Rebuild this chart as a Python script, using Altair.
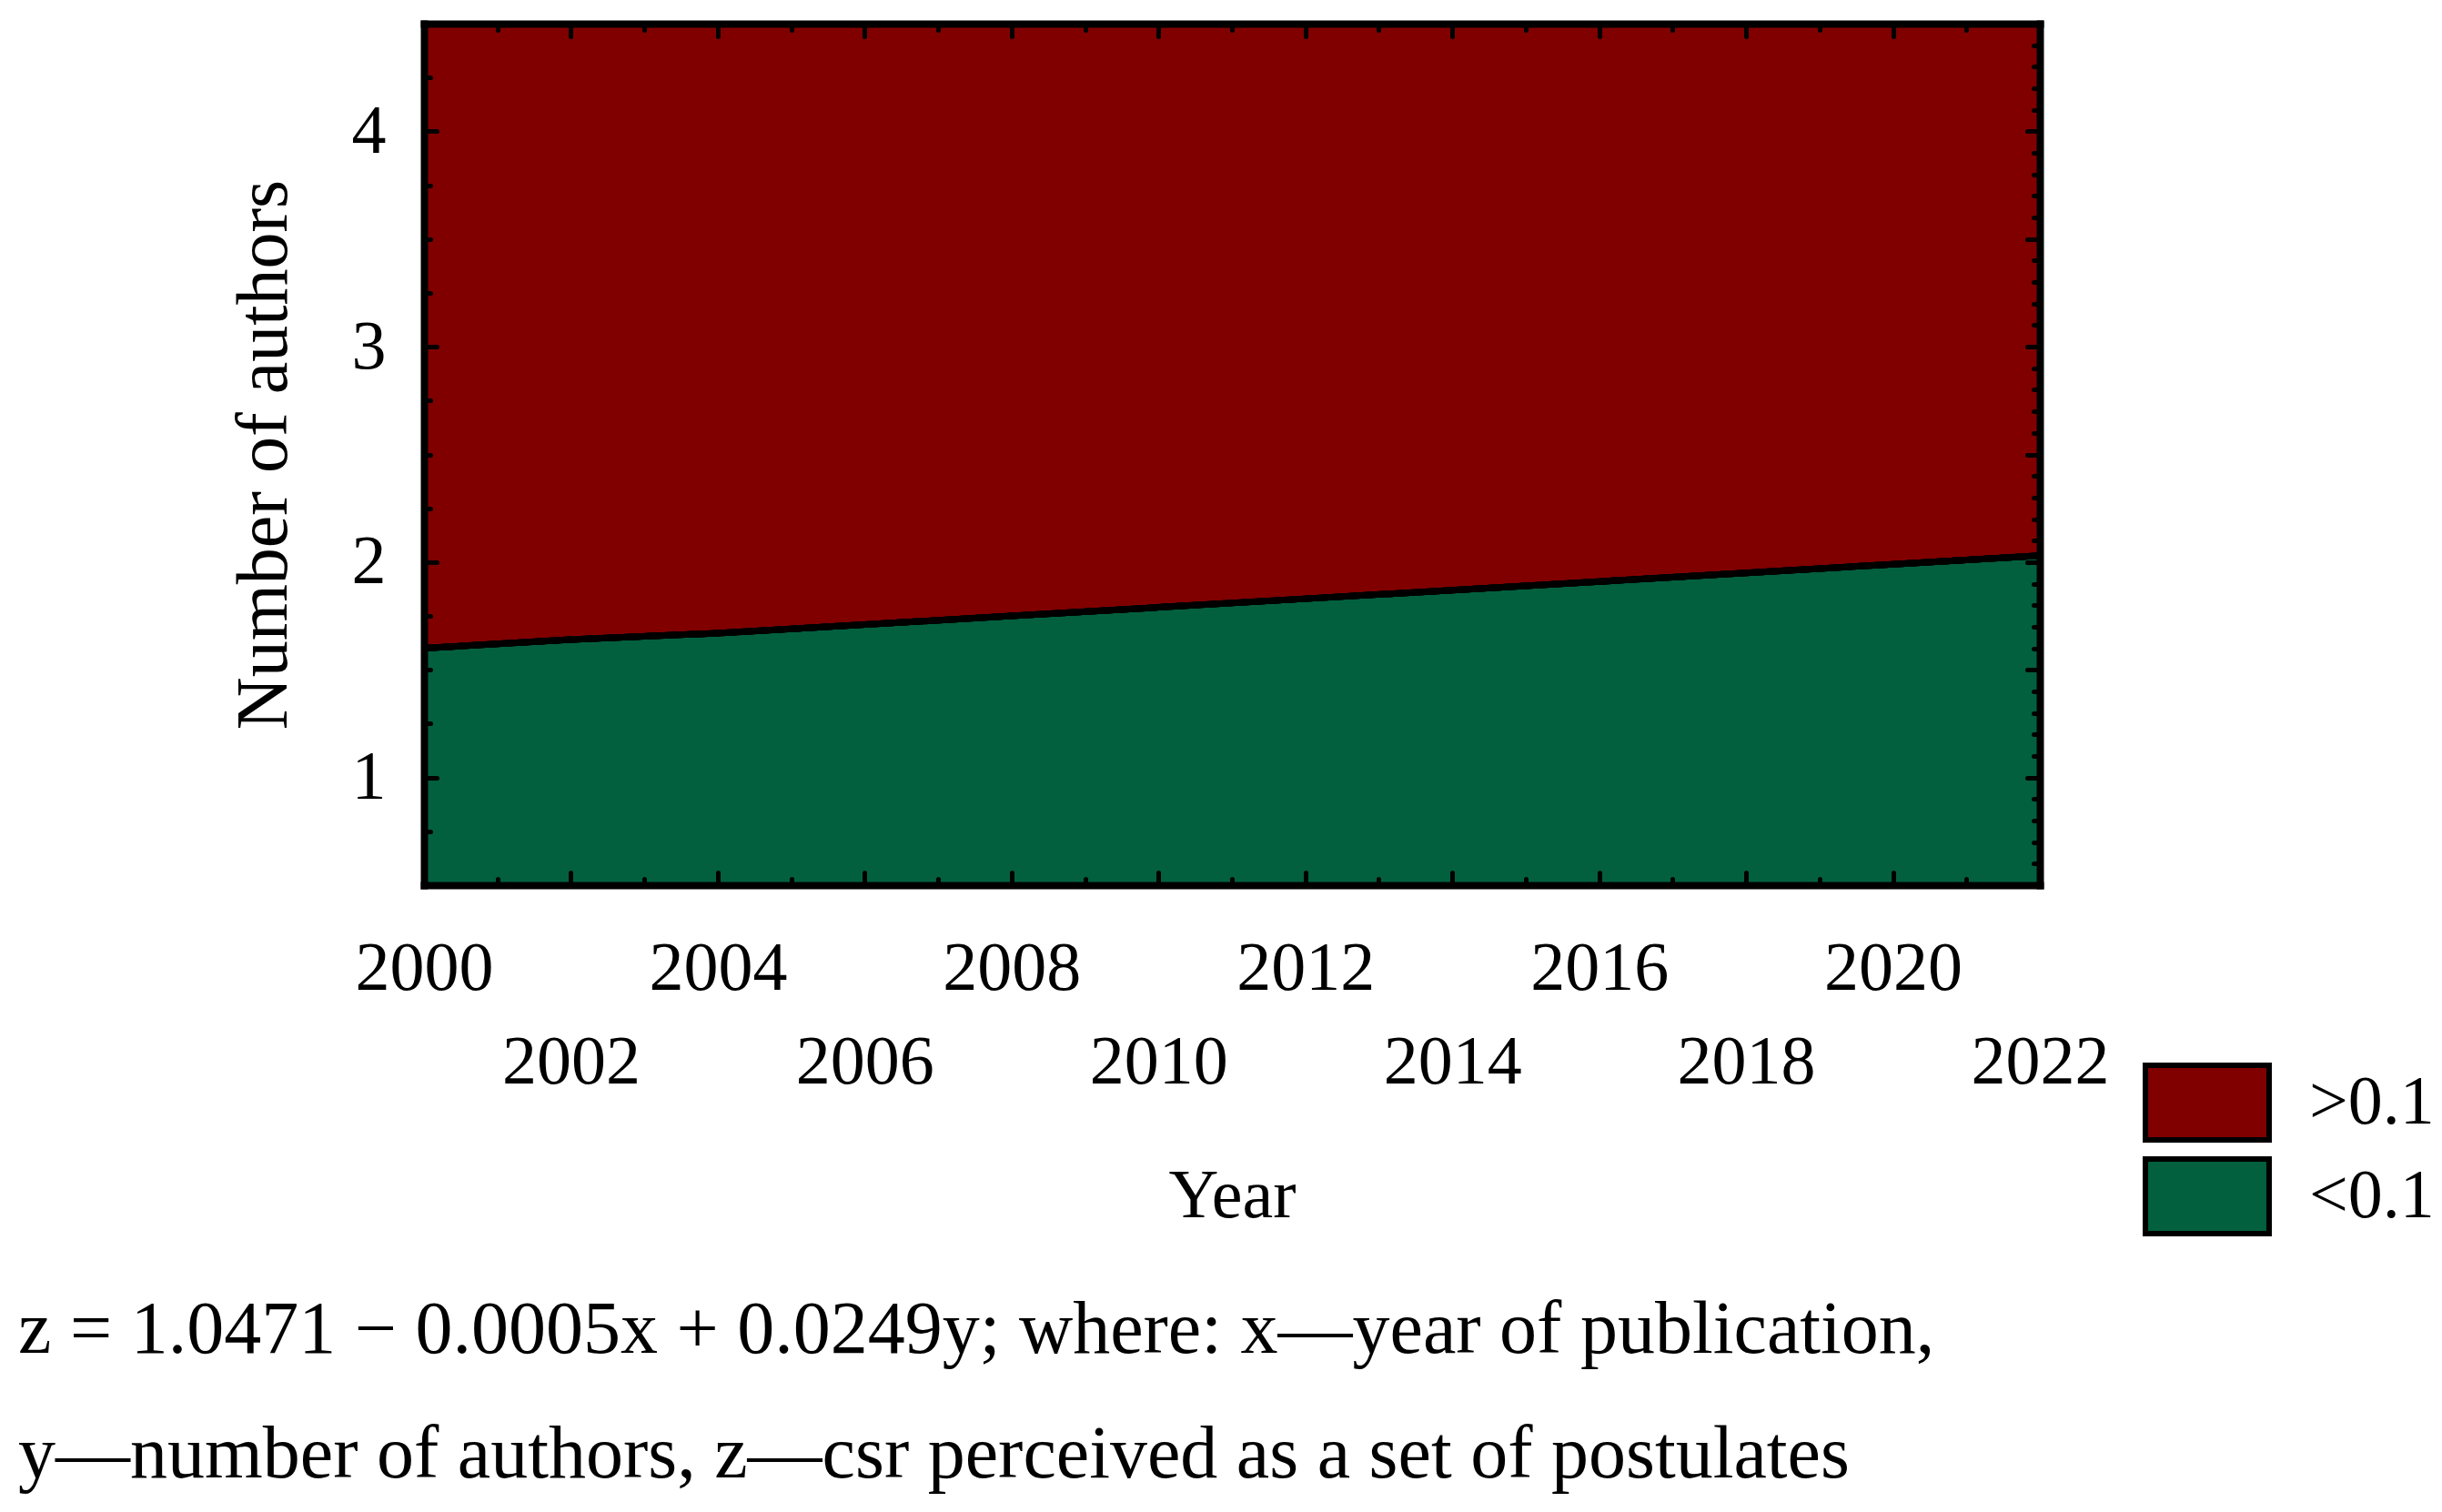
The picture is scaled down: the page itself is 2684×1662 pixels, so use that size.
import altair as alt
import pandas as pd

# ---------------- data ----------------
years = [2000, 2002, 2004, 2006, 2008, 2010, 2012, 2014, 2016, 2018, 2020, 2022]
boundary = [1.60, 1.64, 1.67, 1.71, 1.75, 1.79, 1.83, 1.87, 1.91, 1.95, 1.99, 2.03]
y_bottom = 0.5
y_top = 4.5
levels = [">0.1", "<0.1"]
level_colors = ["#800000", "#02603F"]

x_labels_row1 = [2000, 2004, 2008, 2012, 2016, 2020]
x_labels_row2 = [2002, 2006, 2010, 2014, 2018, 2022]
y_labels = [1, 2, 3, 4]

x_ticks_major = [2002, 2004, 2006, 2008, 2010, 2012, 2014, 2016, 2018, 2020]
x_ticks_minor = [2001, 2003, 2005, 2007, 2009, 2011, 2013, 2015, 2017, 2019, 2021]
y_ticks_left_major = [1, 2, 3, 4]
y_ticks_left_minor = [0.75, 1.25, 1.5, 1.75, 2.25, 2.5, 2.75, 3.25, 3.5, 3.75, 4.25]
y_ticks_right_major = [1.0, 1.5, 2.0, 2.5, 3.0, 3.5, 4.0]
y_ticks_right_minor = [round(0.5 + 0.1 * i, 1) for i in range(1, 40) if i % 5 != 0]

caption_lines = [
    "z = 1.0471 \u2212 0.0005x + 0.0249y; where: x\u2014year of publication,",
    "y\u2014number of authors, z\u2014csr perceived as a set of postulates",
]

# ---------------- tables ----------------
rows = []
for yr, b in zip(years, boundary):
    rows.append({"year": yr, "level": "<0.1", "lo": y_bottom, "hi": b})
    rows.append({"year": yr, "level": ">0.1", "lo": b, "hi": y_top})
area_df = pd.DataFrame(rows)
line_df = pd.DataFrame({"year": years, "b": boundary})

W, H = 1776, 947
FONT = "Liberation Serif"

xs = alt.Scale(domain=[2000, 2022], nice=False, zero=False)
ys = alt.Scale(domain=[y_bottom, y_top], nice=False, zero=False)


def tick_axis(orient, offset, values, size, domain=False):
    return alt.Axis(
        orient=orient, offset=offset, values=values, tickSize=size, tickWidth=5,
        tickCap="round", tickColor="black", labels=False, domain=domain,
        domainWidth=8, domainColor="black", domainCap="square", grid=False,
        title=None, zindex=2,
    )


def label_axis_x(values, pad, title=None, domain=False):
    kw = dict(
        orient="bottom", values=values, format="d", ticks=False, tickSize=0,
        labelPadding=pad, labelFont=FONT, labelFontSize=76, labelColor="black",
        labelFlush=False, labelOverlap=False, domain=domain, domainWidth=8,
        domainColor="black", domainCap="square", grid=False, zindex=2,
    )
    if title:
        kw.update(title=title, titleFont=FONT, titleFontSize=76, titleFontWeight="normal",
                  titleColor="black", titleX=W / 2, titleY=364, titleBaseline="alphabetic",
                  titleAlign="center")
    else:
        kw.update(title=None)
    return alt.Axis(**kw)


y_label_axis = alt.Axis(
    orient="left", values=y_labels, format="d", ticks=False, tickSize=0,
    labelPadding=42, labelFont=FONT, labelFontSize=76, labelColor="black",
    labelBaseline="middle", labelFlush=False, domain=True, domainWidth=8,
    domainColor="black", domainCap="square", grid=False, zindex=2,
    title="Number of authors", titleFont=FONT, titleFontSize=80,
    titleFontWeight="normal", titleColor="black", titleX=-152, titleY=H / 2,
    titleBaseline="alphabetic", titleAlign="center", titleAngle=270,
)

areas = alt.Chart(area_df).mark_area(opacity=1, interpolate="linear").encode(
    x=alt.X("year:Q", scale=xs, axis=label_axis_x(x_labels_row1, 54, domain=True)),
    y=alt.Y("hi:Q", scale=ys, stack=None, axis=y_label_axis),
    y2=alt.Y2("lo:Q"),
    color=alt.Color(
        "level:N",
        scale=alt.Scale(domain=levels, range=level_colors),
        legend=alt.Legend(
            title=None, orient="none", legendX=1913, legendY=1139,
            symbolType="M-1.545,-0.932H1.545V0.932H-1.545Z", symbolSize=7744,
            symbolStrokeColor="black", symbolStrokeWidth=6, symbolOpacity=1,
            labelFont=FONT, labelFontSize=76, labelColor="black", labelOffset=65,
            rowPadding=-5, padding=0,
        ),
    ),
)


def line_layer(xaxis, yaxis):
    return alt.Chart(line_df).mark_line(color="black", strokeWidth=7).encode(
        x=alt.X("year:Q", scale=xs, axis=xaxis),
        y=alt.Y("b:Q", scale=ys, axis=yaxis),
    )


l1 = line_layer(label_axis_x(x_labels_row2, 157, title="Year"),
                tick_axis("right", -W, y_ticks_left_major, 14))
l2 = line_layer(tick_axis("top", -H, x_ticks_major, 14),
                tick_axis("right", -W, y_ticks_left_minor, 7))
l3 = line_layer(tick_axis("top", -H, x_ticks_minor, 7),
                tick_axis("left", -W, y_ticks_right_major, 14, domain=True))
l4 = line_layer(tick_axis("bottom", -H, x_ticks_major, 14, domain=True),
                tick_axis("left", -W, y_ticks_right_minor, 7))
l5 = line_layer(tick_axis("bottom", -H, x_ticks_minor, 7), None)

chart = alt.layer(areas, l1, l2, l3, l4, l5).resolve_axis(
    x="independent", y="independent"
).properties(
    width=W,
    height=H,
    autosize=alt.AutoSizeParams(type="none"),
    padding={"left": 458, "top": 18, "right": 434, "bottom": 681},
    title=alt.TitleParams(
        text=caption_lines, orient="bottom", anchor="start", frame="group",
        dx=-446, dy=-17, offset=70, fontSize=82, font=FONT, fontWeight="normal",
        color="black", lineHeight=137, baseline="top",
    ),
).configure(font=FONT).configure_view(stroke=None)

chart.save("out.html", embed_options={"renderer": "svg", "actions": False})
